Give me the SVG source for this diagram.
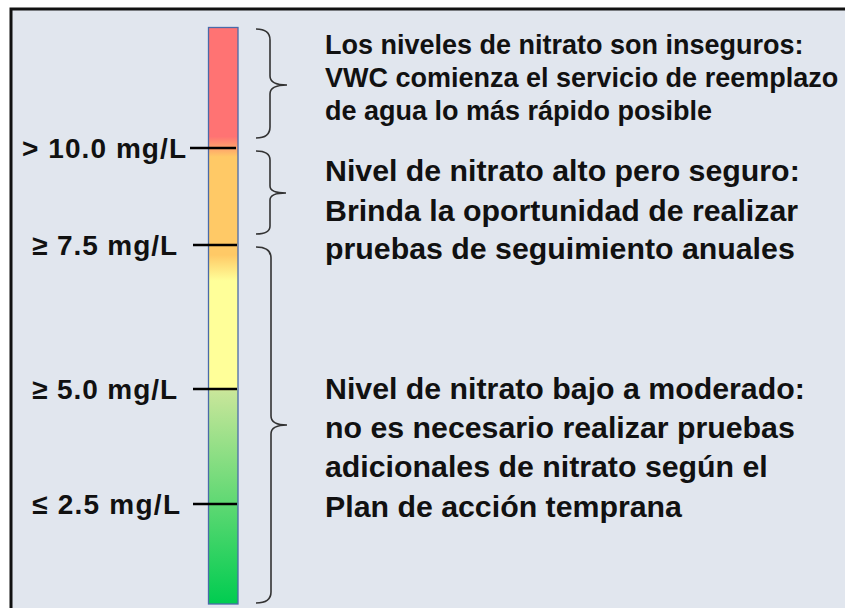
<svg xmlns="http://www.w3.org/2000/svg" width="845" height="608" viewBox="0 0 845 608">
<style>
.lbl{font-family:"Liberation Sans",Arial,sans-serif;font-weight:bold;font-size:28px;fill:#111}
.t1{font-family:"Liberation Sans",Arial,sans-serif;font-weight:bold;font-size:27px;fill:#111}
.t2{font-family:"Liberation Sans",Arial,sans-serif;font-weight:bold;font-size:30.3px;fill:#111}
.tick{stroke:#000;stroke-width:2.5}
.brace{fill:none;stroke:#333;stroke-width:1.6}
</style>
<defs>
<linearGradient id="scale" gradientUnits="userSpaceOnUse" x1="0" y1="27" x2="0" y2="604">
<stop offset="0" stop-color="#ff7373"/>
<stop offset="0.19" stop-color="#ff7373"/>
<stop offset="0.225" stop-color="#ffc966"/>
<stop offset="0.395" stop-color="#ffc966"/>
<stop offset="0.44" stop-color="#ffff99"/>
<stop offset="0.625" stop-color="#ffff99"/>
<stop offset="0.632" stop-color="#c8e69a"/>
<stop offset="1" stop-color="#00cc50"/>
</linearGradient>
</defs>
<rect x="0" y="0" width="845" height="608" fill="#ffffff"/>
<rect id="frame" x="11" y="9" width="840" height="610" fill="#e1e6ee" stroke="#111" stroke-width="3"/>
<g id="bar">
<rect x="208.5" y="27.5" width="29.5" height="576.5" fill="url(#scale)" stroke="#4a6aa8" stroke-width="1.3"/>
</g>
<g id="ticks">
<line class="tick" x1="190" y1="148" x2="236" y2="148"/>
<line class="tick" x1="193" y1="245" x2="237" y2="245"/>
<line class="tick" x1="193" y1="389" x2="237" y2="389"/>
<line class="tick" x1="193" y1="504" x2="237" y2="504"/>
</g>
<g id="labels">
<text class="lbl" x="22" y="158" textLength="164" lengthAdjust="spacing">&gt; 10.0 mg/L</text>
<text class="lbl" x="32" y="255" textLength="145" lengthAdjust="spacing">≥ 7.5 mg/L</text>
<text class="lbl" x="32" y="399" textLength="145" lengthAdjust="spacing">≥ 5.0 mg/L</text>
<text class="lbl" x="32" y="514" textLength="148" lengthAdjust="spacing">≤ 2.5 mg/L</text>
</g>
<g id="connectors">
<path class="brace" d="M256,29 Q270,29 270,40 V76 Q270,85 287,85 Q270,85 270,94 V127 Q270,138 256,138"/>
<path class="brace" d="M256,151 Q270,151 270,160 V186 Q270,193 286,193 Q270,193 270,200 V226 Q270,234 256,234"/>
<path class="brace" d="M256,247 Q271,247 271,258 V416 Q271,425 287,425 Q271,425 271,434 V592 Q271,603 256,603"/>
</g>
<g id="text-unsafe">
<text class="t1" x="325" y="54">Los niveles de nitrato son inseguros:</text>
<text class="t1" x="325" y="87">VWC comienza el servicio de reemplazo</text>
<text class="t1" x="325" y="120">de agua lo más rápido posible</text>
</g>
<g id="text-high">
<text class="t2" x="325" y="181">Nivel de nitrato alto pero seguro:</text>
<text class="t2" x="325" y="221">Brinda la oportunidad de realizar</text>
<text class="t2" x="325" y="259">pruebas de seguimiento anuales</text>
</g>
<g id="text-low">
<text class="t2" x="325" y="399">Nivel de nitrato bajo a moderado:</text>
<text class="t2" x="325" y="438">no es necesario realizar pruebas</text>
<text class="t2" x="325" y="477">adicionales de nitrato según el</text>
<text class="t2" x="325" y="517">Plan de acción temprana</text>
</g>
</svg>
